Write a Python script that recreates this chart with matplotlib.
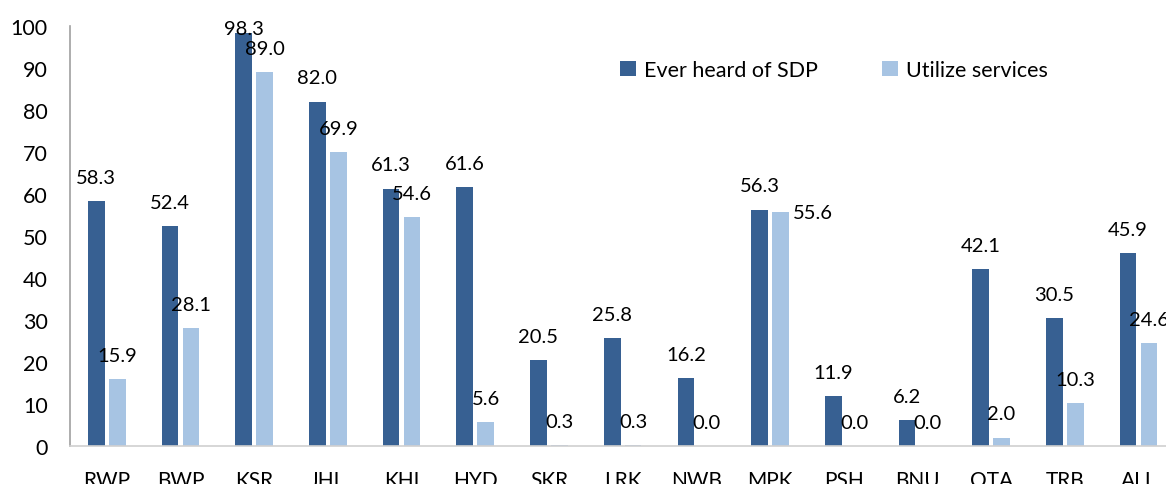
import numpy as np
import matplotlib.pyplot as plt

# --- data ---
districts = ['RWP', 'BWP', 'KSR', 'JHL', 'KHI', 'HYD', 'SKR', 'LRK',
             'NWB', 'MPK', 'PSH', 'BNU', 'QTA', 'TRB', 'ALL']
heard_sdp = [58.3, 52.4, 98.3, 82.0, 61.3, 61.6, 20.5, 25.8,
             16.2, 56.3, 11.9, 6.2, 42.1, 30.5, 45.9]
utilize = [15.9, 28.1, 89.0, 69.9, 54.6, 5.6, 0.3, 0.3,
           0.0, 55.6, 0.0, 0.0, 2.0, 10.3, 24.6]

# --- style ---
plt.rcParams['font.family'] = ['Lato', 'DejaVu Sans']
dark = '#376092'
light = '#A7C4E3'
fs = 14.5

fig = plt.figure(figsize=(11.66, 4.85), dpi=100, facecolor='white')
ax = fig.add_axes([0.060, 0.0784, 0.948, 0.866])

x = np.arange(len(districts))
w = 0.227
off = 0.142
b1 = ax.bar(x - off, heard_sdp, w, color=dark, label='Ever heard of SDP')
b2 = ax.bar(x + off, utilize, w, color=light, label='Utilize services')

# etiquetas de valor (offset en puntos; algunas movidas a mano como en el original)
special = {(0, 2): (0, 3), (1, 9): (23, 0)}
for s, (bars, vals) in enumerate([(b1, heard_sdp), (b2, utilize)]):
    for i, (r, v) in enumerate(zip(bars, vals)):
        dx, dy = special.get((s, i), (0, 17))
        ax.annotate(f'{v:.1f}', (r.get_x() + r.get_width() / 2, v),
                    xytext=(dx, dy), textcoords='offset points',
                    ha='center', va='center', fontsize=fs, color='black')

ax.set_xlim(-0.5, len(districts) - 0.5)
ax.set_ylim(0, 100)
ax.set_yticks(np.arange(0, 101, 10))
ax.set_xticks(x)
ax.set_xticklabels(districts)
ax.tick_params(axis='both', length=0)
ax.tick_params(axis='y', pad=16, labelsize=15.5)
ax.tick_params(axis='x', pad=17, labelsize=15)

for side in ['top', 'right']:
    ax.spines[side].set_visible(False)
ax.spines['left'].set_color('#A0A0A0')
ax.spines['bottom'].set_color('#D0D0D0')
ax.spines['left'].set_linewidth(1.2)
ax.spines['bottom'].set_linewidth(1.2)

fig.legend(loc='center left', bbox_to_anchor=(620 / 1166, 1 - 71 / 485),
           ncol=2, frameon=False, fontsize=15.5, handlelength=0.75,
           handleheight=0.75, handletextpad=0.35, columnspacing=3.0,
           borderaxespad=0, borderpad=0)

plt.savefig('out.png', dpi=100, facecolor='white')
